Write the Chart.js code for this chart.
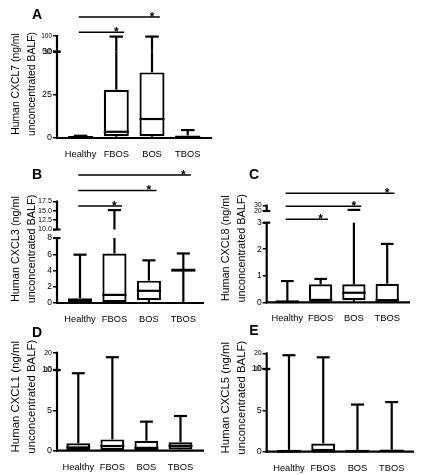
<!DOCTYPE html>
<html><head><meta charset="utf-8">
<script src="https://cdn.jsdelivr.net/npm/chart.js@4.4.1/dist/chart.umd.min.js"></script>
<style>
html,body{margin:0;padding:0;background:#fff;}
#wrap{position:relative;width:422px;height:475px;overflow:hidden;background:#fff;}
canvas{position:absolute;}
</style></head><body><div id="wrap"></div>
<script>
const categories = ['Healthy', 'FBOS', 'BOS', 'TBOS'];

// A – CXCL7
const cxcl7Min = [0, 0, 0, 0];
const cxcl7Q1 = [0, 1, 1, 0];
const cxcl7Median = [0.3, 3.6, 11, 0.5];
const cxcl7Q3 = [0.6, 28, 38, 1.5];
const cxcl7Max = [1.3, 96, 96, 4.6];
const cxcl7LowTicks = [0, 25, 50];
const cxcl7HighTicks = [50, 100];
const cxcl7SigFrom = [0, 0], cxcl7SigTo = [1, 2];

// B – CXCL3
const cxcl3Min = [0, 0, 0, 0];
const cxcl3Q1 = [0, 0.1, 0.35, 4.0];
const cxcl3Median = [0.1, 1.0, 1.5, 4.0];
const cxcl3Q3 = [0.6, 6.1, 2.75, 4.0];
const cxcl3Max = [5.95, 15.2, 5.25, 6.1];
const cxcl3LowTicks = [0, 2, 4, 6, 8];
const cxcl3HighTicks = [10, 12.5, 15, 17.5];
const cxcl3SigFrom = [0, 0, 0], cxcl3SigTo = [1, 2, 3];

// C – CXCL8
const cxcl8Min = [0, 0, 0, 0];
const cxcl8Q1 = [0, 0.02, 0.08, 0.02];
const cxcl8Median = [0.01, 0.09, 0.36, 0.08];
const cxcl8Q3 = [0.03, 0.68, 0.68, 0.7];
const cxcl8Max = [0.8, 0.88, 22, 2.2];
const cxcl8LowTicks = [0, 1, 2, 3];
const cxcl8HighTicks = [20, 30];
const cxcl8SigFrom = [0, 0, 0], cxcl8SigTo = [1, 2, 3];

// D – CXCL1
const cxcl1Min = [0, 0, 0, 0];
const cxcl1Q1 = [0, 0.1, 0.05, 0.15];
const cxcl1Median = [0.4, 0.58, 0.35, 0.6];
const cxcl1Q3 = [0.92, 1.4, 1.24, 1.05];
const cxcl1Max = [9.6, 15, 3.6, 4.3];
const cxcl1LowTicks = [0, 5, 10];
const cxcl1HighTicks = [10, 20];

// E – CXCL5
const cxcl5Min = [0, 0, 0, 0];
const cxcl5Q1 = [0, 0, 0, 0];
const cxcl5Median = [0.02, 0.05, 0.05, 0.1];
const cxcl5Q3 = [0.05, 1.0, 0.12, 0.25];
const cxcl5Max = [17.5, 14.8, 5.7, 6.0];
const cxcl5LowTicks = [0, 5, 10];
const cxcl5HighTicks = [10, 20];

const FONT = '"Liberation Sans", Arial, Helvetica, sans-serif';

const panels = [
  {id:'A', left:0, top:0, w:215, h:160, padTop:36, padRight:3, yWidth:57, xHeight:22,
   xMin:-0.66, xMax:3.68, gap:0.095, upSize:0.087, lowFont:9, upFont:6.5, decLow:0, decHigh:0, titleSize:10.4,
   title:['Human CXCL7 (ng/ml','unconcentrated BALF)'], letter:[37,19],
   min:cxcl7Min, q1:cxcl7Q1, median:cxcl7Median, q3:cxcl7Q3, max:cxcl7Max,
   low:cxcl7LowTicks, high:cxcl7HighTicks, sigFrom:cxcl7SigFrom, sigTo:cxcl7SigTo, sigBase:-3.7, sigStep:15.3},
  {id:'B', left:0, top:160, w:215, h:165, padTop:41.5, padRight:11, yWidth:57, xHeight:22,
   xMin:-0.668, xMax:3.60, gap:0.131, upSize:0.431, lowFont:8.5, upFont:7.2, decLow:0, decHigh:1, titleSize:10.85,
   title:['Human CXCL3 (ng/ml','unconcentrated BALF)'], letter:[37,18.5],
   min:cxcl3Min, q1:cxcl3Q1, median:cxcl3Median, q3:cxcl3Q3, max:cxcl3Max,
   low:cxcl3LowTicks, high:cxcl3HighTicks, sigFrom:cxcl3SigFrom, sigTo:cxcl3SigTo, sigBase:4.5, sigStep:15.5},
  {id:'C', left:210, top:160, w:212, h:165, padTop:45.5, padRight:12, yWidth:56.7, xHeight:22.7,
   xMin:-0.62, xMax:3.685, gap:0.147, upSize:0.069, lowFont:8.5, upFont:7, decLow:0, decHigh:0, titleSize:10.85,
   title:['Human CXCL8 (ng/ml','unconcentrated BALF)'], letter:[44,19],
   min:cxcl8Min, q1:cxcl8Q1, median:cxcl8Median, q3:cxcl8Q3, max:cxcl8Max,
   low:cxcl8LowTicks, high:cxcl8HighTicks, sigFrom:cxcl8SigFrom, sigTo:cxcl8SigTo, sigBase:13.8, sigStep:13},
  {id:'D', left:0, top:315, w:215, h:160, padTop:37.7, padRight:11, yWidth:57, xHeight:24.3,
   xMin:-0.625, xMax:3.69, gap:0.103, upSize:0.1115, lowFont:9, upFont:7, decLow:0, decHigh:0, titleSize:11.4,
   title:['Human CXCL1 (ng/ml','unconcentrated BALF)'], letter:[37,21.5],
   min:cxcl1Min, q1:cxcl1Q1, median:cxcl1Median, q3:cxcl1Q3, max:cxcl1Max,
   low:cxcl1LowTicks, high:cxcl1HighTicks, sigFrom:[], sigTo:[], sigBase:0, sigStep:0},
  {id:'E', left:210, top:315, w:212, h:160, padTop:38.3, padRight:8, yWidth:56.7, xHeight:23.3,
   xMin:-0.651, xMax:3.651, gap:0.097, upSize:0.093, lowFont:9, upFont:7, decLow:0, decHigh:0, titleSize:11.4,
   title:['Human CXCL5 (ng/ml','unconcentrated BALF)'], letter:[44,20],
   min:cxcl5Min, q1:cxcl5Q1, median:cxcl5Median, q3:cxcl5Q3, max:cxcl5Max,
   low:cxcl5LowTicks, high:cxcl5HighTicks, sigFrom:[], sigTo:[], sigBase:0, sigStep:0}
];

function buildPanel(P) {
  const lowMax = P.low[P.low.length - 1];
  const upMin = P.high[0];
  const upMax = P.high[P.high.length - 1];
  // broken-axis transform
  const f = v => v <= lowMax ? v :
    (v < upMin ? lowMax : lowMax * (1 + P.gap) + (v - upMin) / (upMax - upMin) * lowMax * P.upSize);
  const tickVals = P.low.map(f).concat(P.high.map(f));
  const tickLabels = P.low.map(v => v.toFixed(P.decLow)).concat(P.high.map(v => v.toFixed(P.decHigh)));
  const nLow = P.low.length;

  const cv = document.createElement('canvas');
  cv.width = P.w; cv.height = P.h;
  cv.style.left = P.left + 'px'; cv.style.top = P.top + 'px';
  cv.style.width = P.w + 'px'; cv.style.height = P.h + 'px';
  document.getElementById('wrap').appendChild(cv);

  function line(ctx, x1, y1, x2, y2) { ctx.beginPath(); ctx.moveTo(x1, y1); ctx.lineTo(x2, y2); ctx.stroke(); }
  function vSeg(ctx, ys, x, a, b) {
    const segs = [];
    if (a < lowMax) segs.push([Math.max(a, 0), Math.min(b, lowMax)]);
    if (b > upMin) segs.push([Math.max(a, upMin), Math.min(b, upMax)]);
    segs.forEach(([u, w]) => { if (w > u) line(ctx, x, ys.getPixelForValue(f(u)), x, ys.getPixelForValue(f(w))); });
  }

  const plugin = {
    id: 'panel' + P.id,
    afterDatasetsDraw(chart) {
      const ctx = chart.ctx, xs = chart.scales.x, ys = chart.scales.y;
      ctx.save();
      ctx.strokeStyle = '#000'; ctx.lineWidth = 2.2; ctx.lineCap = 'butt';
      categories.forEach((c, i) => {
        const xc = xs.getPixelForValue(i);
        const hw = xs.getPixelForValue(i + 0.35) - xc;
        const cw = xs.getPixelForValue(i + 0.19) - xc;
        vSeg(ctx, ys, xc, P.q3[i], P.max[i]);
        vSeg(ctx, ys, xc, P.min[i], P.q1[i]);
        const yMax = ys.getPixelForValue(f(P.max[i]));
        line(ctx, xc - cw, yMax, xc + cw, yMax);
        const yMed = ys.getPixelForValue(f(P.median[i]));
        line(ctx, xc - hw, yMed, xc + hw, yMed);
      });
      ctx.restore();
    },
    afterDraw(chart) {
      const ctx = chart.ctx, xs = chart.scales.x, ys = chart.scales.y, a = chart.chartArea;
      ctx.save();
      ctx.strokeStyle = '#000'; ctx.fillStyle = '#000'; ctx.lineWidth = 2.2;
      // x axis
      line(ctx, a.left - 1, a.bottom, a.right, a.bottom);
      // broken y axis
      const yLowTop = ys.getPixelForValue(f(lowMax));
      const yUpBot = ys.getPixelForValue(f(upMin) + 1e-9);
      const yUpTop = ys.getPixelForValue(f(upMax));
      line(ctx, a.left, a.bottom + 1, a.left, yLowTop);
      line(ctx, a.left, yUpBot, a.left, yUpTop - 1);
      line(ctx, a.left - 4, yLowTop, a.left + 3.5, yLowTop);
      line(ctx, a.left - 4, yUpBot, a.left + 3.5, yUpBot);
      // significance bars
      ctx.lineWidth = 1.4;
      P.sigFrom.forEach((fr, k) => {
        const to = P.sigTo[k];
        const y = a.top + P.sigBase - k * P.sigStep;
        line(ctx, xs.getPixelForValue(fr - 0.05), y, xs.getPixelForValue(to + 0.22), y);
        ctx.font = 'bold 12px ' + FONT;
        ctx.textAlign = 'center'; ctx.textBaseline = 'alphabetic';
        ctx.fillText('*', xs.getPixelForValue(to), y + 3.5);
      });
      // axis title
      ctx.font = P.titleSize + 'px ' + FONT;
      ctx.textAlign = 'center'; ctx.textBaseline = 'middle';
      [[-41, P.title[0]], [-25, P.title[1]]].forEach(([dx, t]) => {
        ctx.save();
        ctx.translate(a.left + dx, a.bottom - 54);
        ctx.rotate(-Math.PI / 2);
        ctx.fillText(t, 0, 0);
        ctx.restore();
      });
      // panel letter
      ctx.font = 'bold 14px ' + FONT;
      ctx.textAlign = 'center'; ctx.textBaseline = 'alphabetic';
      ctx.fillText(P.id, P.letter[0], P.letter[1]);
      ctx.restore();
    }
  };

  return new Chart(cv, {
    type: 'bar',
    data: {
      datasets: [{
        data: categories.map((c, i) => ({x: i, y: [f(P.q1[i]), f(P.q3[i])]})),
        backgroundColor: '#fff', borderColor: '#000', borderWidth: 2.2, borderSkipped: false,
        barPercentage: 0.7, categoryPercentage: 1, minBarLength: 2
      }]
    },
    options: {
      responsive: false, animation: false, events: [],
      layout: {padding: {top: P.padTop, right: P.padRight, left: 0, bottom: 0}},
      plugins: {legend: {display: false}, tooltip: {enabled: false}},
      scales: {
        x: {
          type: 'linear', offset: false, min: P.xMin, max: P.xMax,
          afterFit(s) { s.height = P.xHeight; },
          afterBuildTicks(s) { s.ticks = categories.map((c, i) => ({value: i})); },
          ticks: {autoSkip: false, maxRotation: 0, padding: 3, color: '#000',
                  font: {family: FONT, size: 9.3}, callback: (v, i) => categories[i]},
          grid: {display: false}, border: {display: false}
        },
        y: {
          type: 'linear', min: 0, max: f(upMax),
          afterFit(s) { s.width = P.yWidth; },
          afterBuildTicks(s) { s.ticks = tickVals.map(v => ({value: v})); },
          ticks: {autoSkip: false, padding: 1, color: '#000',
                  font: (c) => ({family: FONT, size: c.index >= nLow ? P.upFont : P.lowFont}),
                  callback: (v, i) => tickLabels[i]},
          grid: {display: true, drawOnChartArea: false, drawTicks: true, tickLength: 4,
                 color: '#000', lineWidth: 1.5},
          border: {display: false}
        }
      }
    },
    plugins: [plugin]
  });
}

panels.forEach(buildPanel);
</script></body></html>
